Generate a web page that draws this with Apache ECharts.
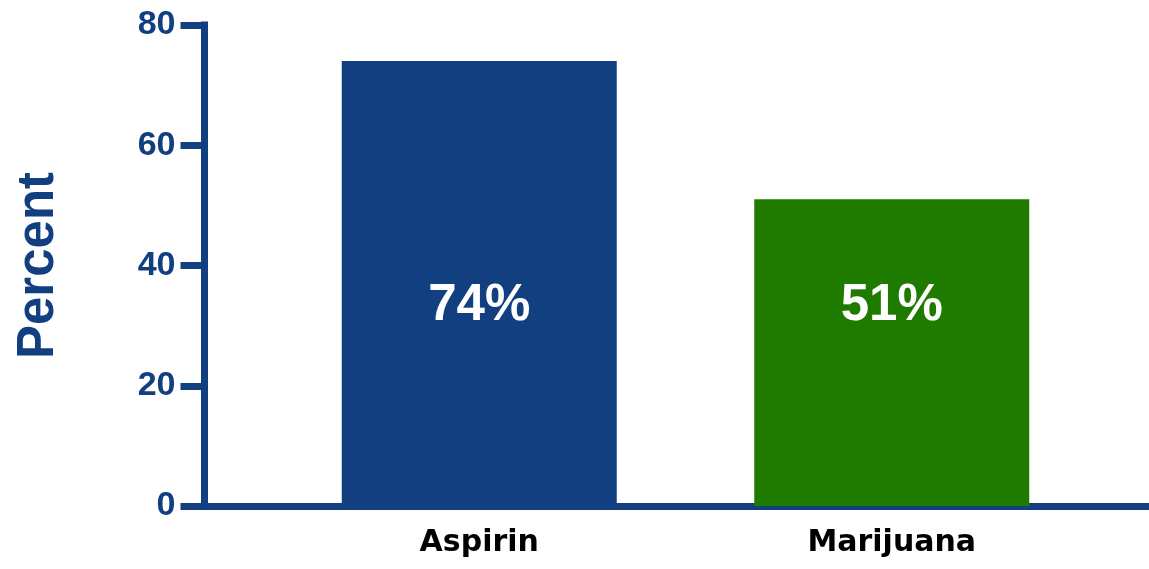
<!DOCTYPE html>
<html>
<head>
<meta charset="utf-8">
<script src="https://cdn.jsdelivr.net/npm/echarts@6/dist/echarts.min.js"></script>
<style>
  html, body { margin: 0; padding: 0; background: #fff; }
  #chart { width: 1149px; height: 569px; }
</style>
</head>
<body>
<div id="chart"></div>
<script>
const BLUE = '#113f7f';
const GREEN = '#1f7b00';

const CATEGORIES = ['Aspirin', 'Marijuana'];
const VALUES = [74, 51];
const BAR_COLORS = [BLUE, GREEN];
const Y_TICKS = { min: 0, max: 80, interval: 20 };

const FONT = '"Liberation Sans", Arial, sans-serif';

let chart = echarts.init(document.getElementById('chart'));

let option = {
  animation: false,
  grid: [
    // 柱子所在的网格
    { left: 273, right: 51, top: 25, bottom: 63 },
    // 只用来画坐标轴线
    { left: 204.5, right: 0, top: 25, bottom: 63 }
  ],
  xAxis: [{
    type: 'category',
    gridIndex: 0,
    data: CATEGORIES,
    axisLine: { show: false },
    axisTick: { show: false },
    axisLabel: {
      margin: 22,
      color: '#000',
      fontFamily: '"DejaVu Sans", sans-serif',
      fontWeight: 'bold',
      fontSize: 30
    }
  }, {
    type: 'value',
    gridIndex: 1,
    min: 0,
    max: 1,
    axisLine: { show: true, lineStyle: { color: BLUE, width: 7 } },
    axisTick: { show: false },
    axisLabel: { show: false },
    splitLine: { show: false }
  }],
  yAxis: [{
    type: 'value',
    gridIndex: 0,
    min: Y_TICKS.min,
    max: Y_TICKS.max,
    interval: Y_TICKS.interval,
    show: false
  }, {
    type: 'value',
    gridIndex: 1,
    min: Y_TICKS.min,
    max: Y_TICKS.max,
    interval: Y_TICKS.interval,
    name: 'Percent',
    nameLocation: 'middle',
    nameGap: 140,
    nameTextStyle: {
      color: BLUE,
      fontFamily: FONT,
      fontWeight: 'bold',
      fontSize: 51
    },
    axisLine: { show: true, lineStyle: { color: BLUE, width: 7, cap: 'square' } },
    axisTick: { show: true, length: 24, lineStyle: { color: BLUE, width: 7 } },
    axisLabel: {
      margin: 29,
      color: BLUE,
      fontFamily: FONT,
      fontWeight: 'bold',
      fontSize: 34
    },
    splitLine: { show: false }
  }],
  series: [{
    type: 'bar',
    xAxisIndex: 0,
    yAxisIndex: 0,
    barWidth: 275,
    data: VALUES.map((v, i) => ({ value: v, itemStyle: { color: BAR_COLORS[i] } })),
    label: {
      show: true,
      position: 'insideBottom',
      distance: 175,
      formatter: p => p.value + '%',
      color: '#fff',
      fontFamily: FONT,
      fontWeight: 'bold',
      fontSize: 51
    }
  }]
};

chart.setOption(option);
</script>
</body>
</html>
